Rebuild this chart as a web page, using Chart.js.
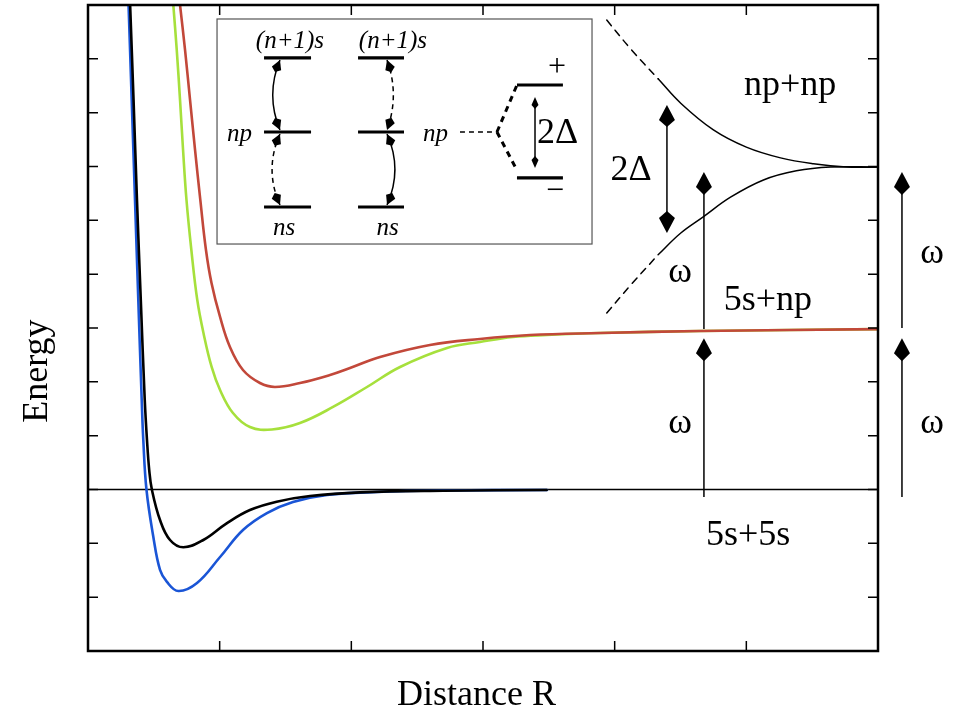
<!DOCTYPE html>
<html><head><meta charset="utf-8">
<script src="https://cdn.jsdelivr.net/npm/chart.js@4.4.1/dist/chart.umd.min.js"></script>
<style>html,body{margin:0;padding:0;background:#fff;overflow:hidden}</style>
</head><body>
<canvas id="c" width="969" height="715"></canvas>
<script>
// ---- axis ranges / tick values ----
const X_RANGE = [0, 6];
const Y_RANGE = [-3, 9];
const xTickValues = [1, 2, 3, 4, 5];
const yTickValues = [-2, -1, 0, 1, 2, 3, 4, 5, 6, 7, 8];

// ---- potential curves [R, E] ----
const redCurve = [[0.699,9.0],[0.737,8.165],[0.775,7.236],[0.813,6.307],[0.853,5.378],[0.896,4.449],[0.938,3.836],[1.003,3.205],[1.078,2.647],[1.177,2.22],[1.306,1.978],[1.42,1.905],[1.61,1.978],[1.838,2.127],[1.99,2.257],[2.218,2.461],[2.597,2.684],[2.977,2.796],[3.357,2.870],[3.889,2.907],[4.648,2.944],[6.0,2.98]];
const greenCurve = [[0.648,9.0],[0.674,8.165],[0.699,7.236],[0.722,6.307],[0.748,5.378],[0.785,4.449],[0.830,3.52],[0.877,2.907],[0.939,2.276],[1.003,1.848],[1.101,1.421],[1.23,1.161],[1.397,1.115],[1.61,1.235],[1.861,1.533],[2.119,1.904],[2.37,2.276],[2.727,2.629],[2.977,2.74],[3.228,2.833],[3.486,2.87],[3.889,2.907],[4.648,2.944],[6.0,2.98]];
const blueCurve = [[0.308,9.0],[0.332,7.236],[0.357,5.378],[0.382,3.52],[0.408,1.663],[0.42,0.92],[0.444,0.0],[0.496,-0.877],[0.547,-1.495],[0.598,-1.713],[0.686,-1.886],[0.828,-1.737],[1.003,-1.254],[1.177,-0.752],[1.359,-0.437],[1.557,-0.232],[1.815,-0.102],[2.195,-0.046],[2.696,-0.019],[3.486,-0.009]];
const blackCurve = [[0.32,9.0],[0.346,7.236],[0.372,5.378],[0.401,3.52],[0.431,1.663],[0.448,0.92],[0.465,0.362],[0.485,0.0],[0.547,-0.567],[0.623,-0.938],[0.724,-1.074],[0.876,-0.938],[1.053,-0.628],[1.23,-0.381],[1.433,-0.226],[1.686,-0.121],[2.066,-0.053],[2.699,-0.022],[3.484,-0.009]];
const zeroLine = [[0,0],[6,0]];
const npUpperDashed = [[3.94,8.72],[4.13,8.16],[4.33,7.63]];
const npUpperSolid = [[4.33,7.63],[4.50,7.18],[4.75,6.68],[5.00,6.36],[5.26,6.16],[5.51,6.05],[5.76,5.99],[6.0,5.99]];
const npLowerDashed = [[3.94,3.28],[4.13,3.82],[4.33,4.36]];
const npLowerSolid = [[4.33,4.36],[4.50,4.76],[4.67,5.06],[4.88,5.43],[5.13,5.75],[5.38,5.92],[5.64,5.99],[6.0,5.99]];

// ---- annotations (data units) ----
const upArrows = [[4.678,-0.14,2.81],[4.678,2.98,5.90],[6.182,-0.14,2.81],[6.182,3.0,5.90]]; // x, tail, tip
const gapArrow = [4.397, 4.765, 7.143]; // x, lower tip, upper tip
const mainLabels = [['np+np',5.332,7.33],['2Δ',4.124,5.75],['ω',4.496,3.855],['5s+np',5.164,3.33],['ω',4.496,1.05],['5s+5s',5.013,-1.03],['ω',6.41,4.21],['ω',6.41,1.05]];
const xTitle = ['Distance R', 2.95, -4.003];
const yTitle = ['Energy', -0.311, 2.2];

// ---- inset schematic (data units) ----
const insetBox = [0.98, 3.828, 4.56, 8.74];
const insetLevels = [[1.337,1.694,8.016],[1.337,1.694,6.641],[1.337,1.694,5.248],[2.051,2.400,8.016],[2.051,2.400,6.641],[2.051,2.400,5.248],[3.258,3.607,7.514],[3.258,3.607,5.787]];
const insetCouplings = [[1.458,8.016,6.641,-0.055,false],[1.458,6.641,5.248,-0.06,true],[2.271,8.016,6.641,0.048,true],[2.271,6.641,5.248,0.06,false]]; // x, y0, y1, bulge, dashed
const insetItalic = [['(n+1)s',1.534,8.20,'center'],['(n+1)s',2.316,8.20,'center'],['np',1.246,6.47,'right'],['np',2.734,6.47,'right'],['ns',1.489,4.73,'center'],['ns',2.275,4.73,'center']];
const insetSigns = [['+',3.562,7.83],['\u2212',3.547,5.527]];
const insetGapLabel = ['2Δ', 3.41, 6.436];
const insetSplitArrow = [3.395, 5.97, 7.29];
const insetNpDash = [[2.825,6.641],[3.106,6.641]];
const insetBracket = [[3.258,7.514],[3.106,6.641],[3.245,5.99]];

const pts = a => a.map(([x,y]) => ({x, y}));
function ds(data, color, width, order, dash) {
  return {data: pts(data), borderColor: color, backgroundColor: color, borderWidth: width,
    pointRadius: 0, showLine: true, fill: false, tension: 0.4,
    order: order, borderDash: dash || [], borderCapStyle: 'round', borderJoinStyle: 'round'};
}

function head(ctx, tx, ty, dx, dy, L1, L2, W) {
  const n = Math.hypot(dx, dy); dx /= n; dy /= n;
  const nx = -dy, ny = dx;
  ctx.beginPath();
  ctx.moveTo(tx, ty);
  ctx.lineTo(tx - dx*L1 + nx*W, ty - dy*L1 + ny*W);
  ctx.lineTo(tx - dx*L2, ty - dy*L2);
  ctx.lineTo(tx - dx*L1 - nx*W, ty - dy*L1 - ny*W);
  ctx.closePath();
  ctx.fill();
}

const decor = {
  id: 'decor',
  afterDatasetsDraw(chart) {
    const ctx = chart.ctx, ca = chart.chartArea;
    const X = v => chart.scales.x.getPixelForValue(v);
    const Y = v => chart.scales.y.getPixelForValue(v);
    ctx.save();
    ctx.setLineDash([]);
    ctx.strokeStyle = '#000'; ctx.fillStyle = '#000';
    // ticks
    ctx.lineWidth = 1.5;
    ctx.beginPath();
    for (const t of xTickValues) {
      const x = X(t);
      ctx.moveTo(x, ca.bottom); ctx.lineTo(x, ca.bottom - 10);
      ctx.moveTo(x, ca.top); ctx.lineTo(x, ca.top + 10);
    }
    for (const t of yTickValues) {
      const y = Y(t);
      ctx.moveTo(ca.left, y); ctx.lineTo(ca.left + 10, y);
      ctx.moveTo(ca.right, y); ctx.lineTo(ca.right - 10, y);
    }
    ctx.stroke();
    // frame
    ctx.lineWidth = 2.5;
    ctx.strokeRect(ca.left, ca.top, ca.right - ca.left, ca.bottom - ca.top);

    // main arrows
    ctx.lineWidth = 1.5;
    for (const [x, y0, y1] of upArrows) {
      ctx.beginPath(); ctx.moveTo(X(x), Y(y0)); ctx.lineTo(X(x), Y(y1) + 10); ctx.stroke();
      head(ctx, X(x), Y(y1), 0, -1, 15, 23, 8);
    }
    {
      const [x, y0, y1] = gapArrow;
      ctx.beginPath(); ctx.moveTo(X(x), Y(y0) - 10); ctx.lineTo(X(x), Y(y1) + 10); ctx.stroke();
      head(ctx, X(x), Y(y1), 0, -1, 15, 22, 8);
      head(ctx, X(x), Y(y0), 0, 1, 15, 22, 8);
    }
    // labels
    ctx.font = '36px "Liberation Serif"';
    ctx.textAlign = 'center'; ctx.textBaseline = 'alphabetic';
    for (const [t, x, y] of mainLabels) ctx.fillText(t, X(x), Y(y));
    ctx.fillText(xTitle[0], X(xTitle[1]), Y(xTitle[2]));
    ctx.save();
    ctx.translate(X(yTitle[1]), Y(yTitle[2]));
    ctx.rotate(-Math.PI/2);
    ctx.fillText(yTitle[0], 0, 0);
    ctx.restore();

    // inset
    ctx.strokeStyle = '#555'; ctx.lineWidth = 1.2;
    const [bx0, bx1, by0, by1] = insetBox;
    ctx.strokeRect(X(bx0), Y(by1), X(bx1) - X(bx0), Y(by0) - Y(by1));
    ctx.strokeStyle = '#000'; ctx.lineWidth = 3.2;
    ctx.beginPath();
    for (const [x0, x1, y] of insetLevels) { ctx.moveTo(X(x0), Y(y)); ctx.lineTo(X(x1), Y(y)); }
    ctx.stroke();
    // couplings
    for (const [x, y0, y1, b, dashed] of insetCouplings) {
      const p0x = X(x), p0y = Y(y0) + 2, p2x = X(x), p2y = Y(y1) - 2;
      const c1x = p0x + 2*(X(x+b) - X(x)), c1y = (p0y + p2y)/2;
      ctx.lineWidth = 1.5;
      ctx.setLineDash(dashed ? [5, 4] : []);
      ctx.beginPath(); ctx.moveTo(p0x, p0y); ctx.quadraticCurveTo(c1x, c1y, p2x, p2y); ctx.stroke();
      ctx.setLineDash([]);
      head(ctx, p0x, p0y, p0x - c1x, p0y - c1y, 9, 13, 5);
      head(ctx, p2x, p2y, p2x - c1x, p2y - c1y, 9, 13, 5);
    }
    // np dashed and bracket
    ctx.lineWidth = 1.5; ctx.setLineDash([5, 4]);
    ctx.beginPath(); ctx.moveTo(X(insetNpDash[0][0]), Y(insetNpDash[0][1])); ctx.lineTo(X(insetNpDash[1][0]), Y(insetNpDash[1][1])); ctx.stroke();
    ctx.lineWidth = 3; ctx.setLineDash([6, 5]);
    ctx.beginPath();
    ctx.moveTo(X(insetBracket[1][0]), Y(insetBracket[1][1])); ctx.lineTo(X(insetBracket[0][0]), Y(insetBracket[0][1]));
    ctx.moveTo(X(insetBracket[1][0]), Y(insetBracket[1][1])); ctx.lineTo(X(insetBracket[2][0]), Y(insetBracket[2][1]));
    ctx.stroke();
    ctx.setLineDash([]);
    // split arrow
    {
      const [x, y0, y1] = insetSplitArrow;
      ctx.lineWidth = 1.5;
      ctx.beginPath(); ctx.moveTo(X(x), Y(y0) - 5); ctx.lineTo(X(x), Y(y1) + 5); ctx.stroke();
      head(ctx, X(x), Y(y1), 0, -1, 8, 12, 3.5);
      head(ctx, X(x), Y(y0), 0, 1, 8, 12, 3.5);
    }
    // inset texts
    ctx.font = 'italic 25px "Liberation Serif"';
    for (const [t, x, y, al] of insetItalic) { ctx.textAlign = al; ctx.fillText(t, X(x), Y(y)); }
    ctx.textAlign = 'center'; ctx.textBaseline = 'middle';
    ctx.font = '32px "Liberation Serif"';
    for (const [t, x, y] of insetSigns) ctx.fillText(t, X(x), Y(y));
    ctx.textAlign = 'left'; ctx.textBaseline = 'alphabetic';
    ctx.font = '36px "Liberation Serif"';
    ctx.fillText(insetGapLabel[0], X(insetGapLabel[1]), Y(insetGapLabel[2]));
    ctx.restore();
  }
};

new Chart(document.getElementById('c'), {
  type: 'scatter',
  data: {
    datasets: [
      ds(redCurve, '#c2483a', 2.6, 1),
      ds(greenCurve, '#a6e03c', 2.6, 2),
      ds(blackCurve, '#000000', 2.6, 3),
      ds(blueCurve, '#1a55d6', 2.6, 4),
      ds(npUpperSolid, '#000000', 1.5, 5),
      ds(npLowerSolid, '#000000', 1.5, 5),
      ds(npUpperDashed, '#000000', 1.5, 5, [7, 6]),
      ds(npLowerDashed, '#000000', 1.5, 5, [7, 6]),
      ds(zeroLine, '#000000', 1.5, 10)
    ]
  },
  options: {
    responsive: false,
    animation: false,
    devicePixelRatio: 1,
    layout: {padding: {left: 88, right: 91, top: 5, bottom: 64}},
    plugins: {legend: {display: false}, tooltip: {enabled: false}},
    scales: {
      x: {type: 'linear', min: X_RANGE[0], max: X_RANGE[1], display: false},
      y: {type: 'linear', min: Y_RANGE[0], max: Y_RANGE[1], display: false}
    }
  },
  plugins: [decor]
});
</script>
</body></html>
